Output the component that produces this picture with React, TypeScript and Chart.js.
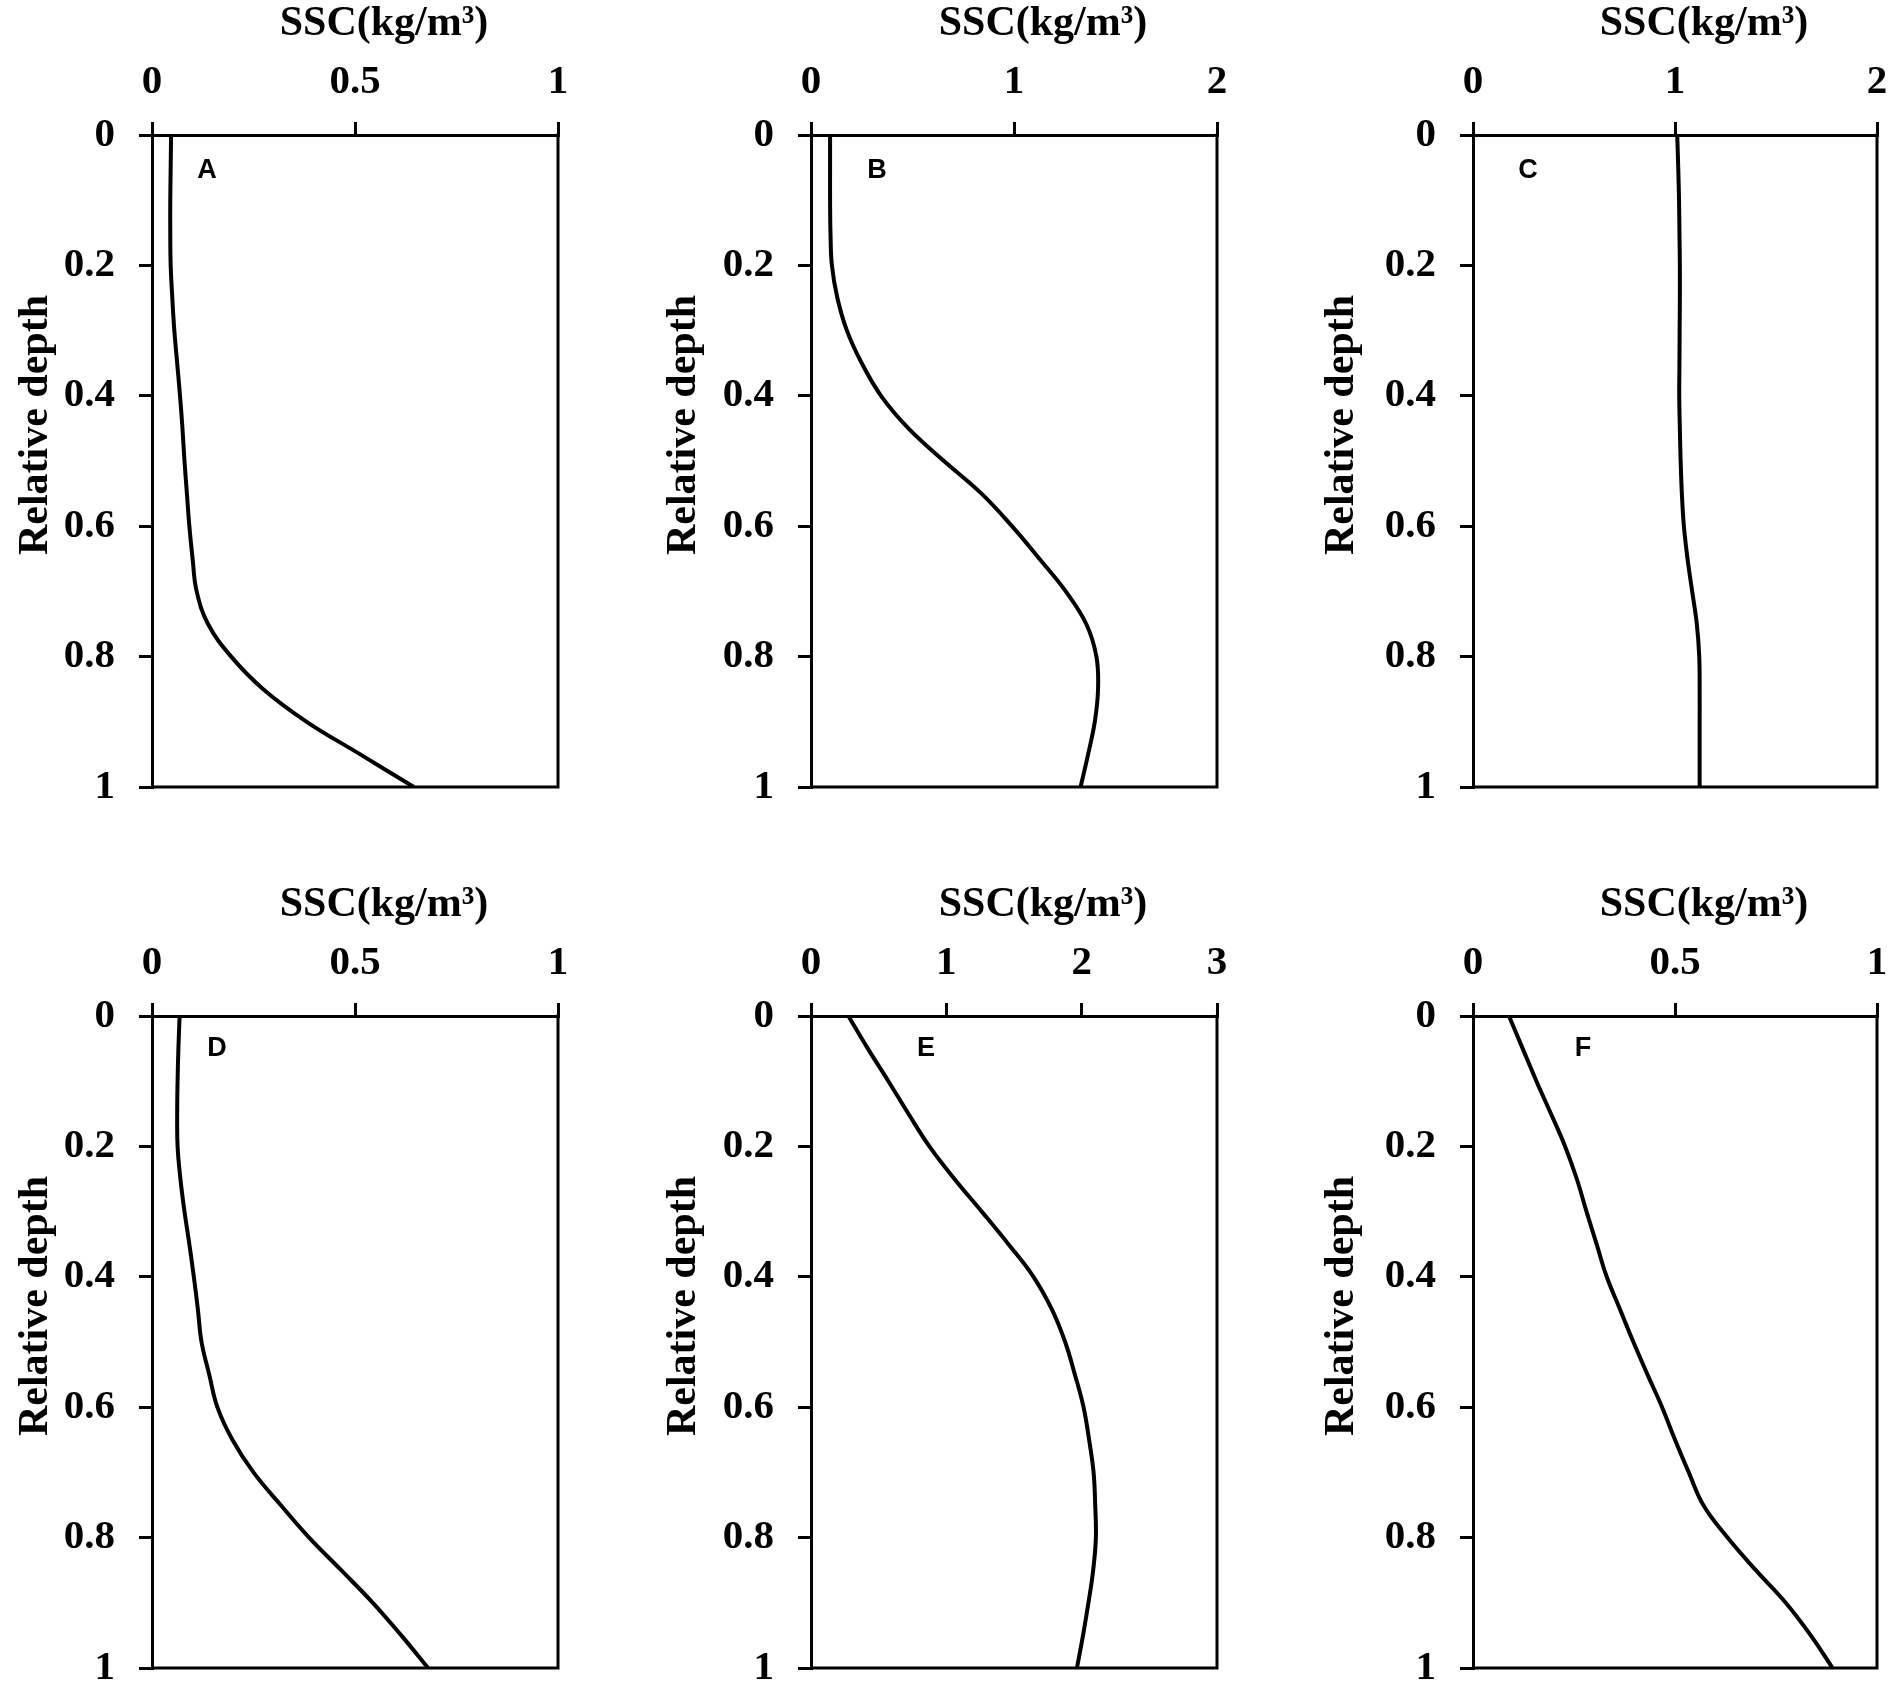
import React, { useEffect, useRef } from "react";
import { Chart, registerables } from "chart.js";

Chart.register(...registerables);

// ---------- data ----------
const depth = [0, 0.05, 0.1, 0.15, 0.2, 0.25, 0.3, 0.35, 0.4, 0.45, 0.5, 0.55, 0.6, 0.65, 0.7, 0.75, 0.8, 0.85, 0.9, 0.95, 1];

const sscA = [0.047, 0.046, 0.045, 0.045, 0.046, 0.05, 0.055, 0.062, 0.069, 0.075, 0.08, 0.086, 0.092, 0.1, 0.11, 0.138, 0.195, 0.274, 0.381, 0.513, 0.645];
const sscB = [0.094, 0.094, 0.094, 0.096, 0.103, 0.13, 0.177, 0.25, 0.345, 0.48, 0.655, 0.84, 0.99, 1.125, 1.255, 1.356, 1.406, 1.414, 1.398, 1.365, 1.328];
const sscC = [1.011, 1.016, 1.02, 1.022, 1.024, 1.024, 1.023, 1.022, 1.021, 1.024, 1.028, 1.034, 1.044, 1.062, 1.085, 1.108, 1.12, 1.122, 1.122, 1.122, 1.122];
const sscD = [0.068, 0.065, 0.063, 0.062, 0.063, 0.07, 0.08, 0.092, 0.103, 0.113, 0.122, 0.141, 0.161, 0.198, 0.25, 0.317, 0.387, 0.466, 0.544, 0.614, 0.68];
const sscE = [0.276, 0.42, 0.572, 0.72, 0.875, 1.06, 1.262, 1.459, 1.644, 1.78, 1.878, 1.95, 2.014, 2.055, 2.088, 2.1, 2.105, 2.085, 2.05, 2.01, 1.965];
const sscF = [0.089, 0.123, 0.157, 0.193, 0.228, 0.257, 0.281, 0.306, 0.331, 0.364, 0.397, 0.432, 0.468, 0.5, 0.534, 0.57, 0.63, 0.7, 0.774, 0.836, 0.89];

const ticksHalf = [0, 0.5, 1];
const ticksTwo = [0, 1, 2];
const ticksThree = [0, 1, 2, 3];
const depthTicks = [0, 0.2, 0.4, 0.6, 0.8, 1];

const panelLetters = ["A", "B", "C", "D", "E", "F"];
const panelValues = [sscA, sscB, sscC, sscD, sscE, sscF];
const panelXTicks = [ticksHalf, ticksTwo, ticksTwo, ticksHalf, ticksThree, ticksHalf];

const xTitle = "SSC(kg/m\u00B3)";
const yTitle = "Relative depth";

// ---------- layout (pixels) ----------
const colPlotLeft = [152, 811, 1473];
const colPlotRight = [558, 1217, 1877];
const rowPlotTop = [135, 1016];
const rowPlotBottom = [787, 1668];
const colYTitleX = [36, 25, 21];
const letterOffsets = [
  [55, 36],
  [66, 36],
  [55, 36],
  [65, 33],
  [115, 33],
  [110, 33],
];
const LPAD = 152;
const TPAD = 135;
const RPAD = 13;
const BPAD = 22;
const X_TITLE_SHIFT = 29;
const X_TITLE_Y = 24;
const Y_TITLE_SHIFT = -36;

const SERIF = '"Liberation Serif", "Times New Roman", serif';
const SANS = '"Liberation Sans", Arial, sans-serif';

const framePlugin = {
  id: "frameLetter",
  afterDraw(chart: any, _args: any, opts: any) {
    const { ctx, chartArea: a } = chart;
    ctx.save();
    // right and bottom frame
    ctx.strokeStyle = "#000";
    ctx.lineWidth = 3;
    ctx.beginPath();
    ctx.moveTo(a.right, a.top - 1.5);
    ctx.lineTo(a.right, a.bottom);
    ctx.lineTo(a.left, a.bottom);
    ctx.stroke();
    ctx.fillStyle = "#000";
    // panel letter
    ctx.font = `bold 27px ${SANS}`;
    ctx.textAlign = "center";
    ctx.textBaseline = "middle";
    ctx.fillText(opts.letter, a.left + opts.dx, a.top + opts.dy);
    // x title
    ctx.font = `bold 42px ${SERIF}`;
    ctx.fillText(opts.xTitle, (a.left + a.right) / 2 + X_TITLE_SHIFT, X_TITLE_Y);
    // y title
    ctx.translate(opts.yTitleX, (a.top + a.bottom) / 2 + Y_TITLE_SHIFT);
    ctx.rotate(-Math.PI / 2);
    ctx.fillText(opts.yTitle, 0, 0);
    ctx.restore();
  },
};

function Panel({ index }: { index: number }) {
  const ref = useRef<HTMLCanvasElement | null>(null);
  const col = index % 3;
  const row = Math.floor(index / 3);
  const plotW = colPlotRight[col] - colPlotLeft[col];
  const plotH = rowPlotBottom[row] - rowPlotTop[row];
  const width = LPAD + plotW + RPAD;
  const height = TPAD + plotH + BPAD;
  const left = colPlotLeft[col] - LPAD;
  const top = rowPlotTop[row] - TPAD;

  useEffect(() => {
    if (!ref.current) return;
    const values = panelValues[index];
    const xTicks = panelXTicks[index];
    const data = depth.map((d, i) => ({ x: values[i], y: d }));
    const gridOpts = {
      display: true,
      drawOnChartArea: false,
      drawTicks: true,
      tickLength: 13,
      tickWidth: 3,
      tickColor: "#000",
      color: "#000",
      lineWidth: 3,
    };
    const chart = new Chart(ref.current, {
      type: "line",
      data: {
        datasets: [
          {
            data,
            borderColor: "#000",
            borderWidth: 4,
            pointRadius: 0,
            fill: false,
            tension: 0.4,
          } as any,
        ],
      },
      plugins: [framePlugin as any],
      options: {
        animation: false,
        responsive: false,
        devicePixelRatio: 1,
        indexAxis: "y",
        layout: { padding: { left: 0, top: 0, right: RPAD, bottom: BPAD } },
        plugins: {
          legend: { display: false },
          tooltip: { enabled: false },
          frameLetter: {
            letter: panelLetters[index],
            dx: letterOffsets[index][0],
            dy: letterOffsets[index][1],
            xTitle,
            yTitle,
            yTitleX: colYTitleX[col],
          },
        } as any,
        scales: {
          x: {
            type: "linear",
            position: "top",
            min: 0,
            max: xTicks[xTicks.length - 1],
            afterBuildTicks: (s: any) => {
              s.ticks = xTicks.map((v) => ({ value: v }));
            },
            afterFit: (s: any) => {
              s.height = TPAD;
              s.paddingLeft = 0;
              s.paddingRight = 0;
            },
            ticks: {
              color: "#000",
              padding: 15,
              maxRotation: 0,
              font: { family: SERIF, weight: "bold", size: 41 },
              callback: (v: any) => String(v),
            },
            grid: gridOpts,
            border: { display: true, color: "#000", width: 3 },
            title: { display: false },
          },
          y: {
            type: "linear",
            position: "left",
            reverse: true,
            min: 0,
            max: 1,
            afterBuildTicks: (s: any) => {
              s.ticks = depthTicks.map((v) => ({ value: v }));
            },
            afterFit: (s: any) => {
              s.width = LPAD;
              s.paddingTop = 0;
              s.paddingBottom = 0;
            },
            ticks: {
              color: "#000",
              padding: 24,
              font: { family: SERIF, weight: "bold", size: 41 },
              callback: (v: any) => String(v),
            },
            grid: gridOpts,
            border: { display: true, color: "#000", width: 3 },
            title: { display: false },
          },
        },
      } as any,
    });
    return () => chart.destroy();
  }, [index]);

  return (
    <canvas
      ref={ref}
      width={width}
      height={height}
      style={{ position: "absolute", left, top, width, height }}
    />
  );
}

export default function App() {
  return (
    <div
      style={{
        position: "absolute",
        left: 0,
        top: 0,
        width: 1890,
        height: 1693,
        background: "#fff",
        overflow: "hidden",
      }}
    >
      {panelLetters.map((_, i) => (
        <Panel key={i} index={i} />
      ))}
    </div>
  );
}
